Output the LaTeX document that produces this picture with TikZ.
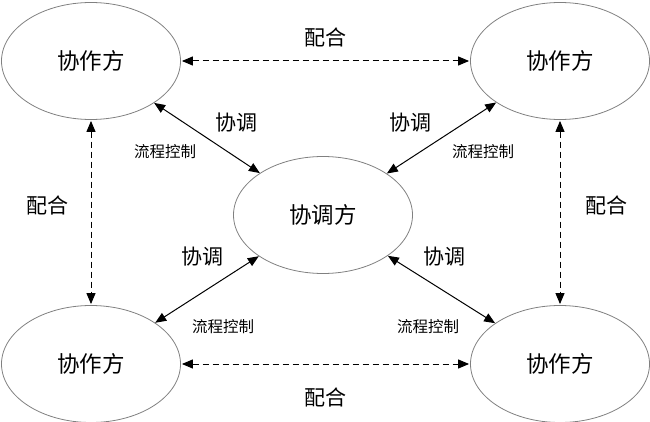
\documentclass[tikz,border=0pt]{standalone}
\usepackage{fontspec}
\newfontfamily\cjk{Noto Sans CJK SC}
\usetikzlibrary{shapes.geometric,arrows.meta}
\begin{document}
\begin{tikzpicture}[x=1pt,y=-1pt,
  party/.style={ellipse,draw=black!50,line width=0.8pt,minimum width=179pt,minimum height=117pt,inner sep=0pt,font=\cjk\fontsize{22.5}{22.5}\selectfont},
  lbl/.style={font=\cjk\fontsize{21}{21}\selectfont,inner sep=0pt},
  small/.style={font=\cjk\fontsize{15.5}{15.5}\selectfont,inner sep=0pt},
  both/.style={{Triangle[width=9pt,length=11pt]}-{Triangle[width=9pt,length=11pt]},line width=1pt},
  dsh/.style={both,dash pattern=on 6pt off 4pt}]
\useasboundingbox (0,0) rectangle (650,422);
\node[party] (tl) at (91,61) {协作方};
\node[party] (tr) at (560,61) {协作方};
\node[party] (c) at (323,215) {协调方};
\node[party] (bl) at (91,364) {协作方};
\node[party] (br) at (560,364) {协作方};
\draw[dsh,shorten <=1pt,shorten >=1pt] (tl) -- (tr);
\draw[dsh,shorten <=1pt,shorten >=1pt] (bl) -- (br);
\draw[dsh,shorten <=1pt,shorten >=1pt] (tl) -- (bl);
\draw[dsh,shorten <=1pt,shorten >=1pt] (tr) -- (br);
\draw[both] (tl) -- (c);
\draw[both] (tr) -- (c);
\draw[both] (bl) -- (c);
\draw[both] (br) -- (c);
\node[lbl] (p1) at (325,37) {配合};
\node[lbl] (p2) at (48,205) {配合};
\node[lbl] (p3) at (606,205) {配合};
\node[lbl] (p4) at (325,397) {配合};
\node[lbl] (x1) at (236,123) {协调};
\node[lbl] (x2) at (410,123) {协调};
\node[lbl] (x3) at (202,257) {协调};
\node[lbl] (x4) at (444,257) {协调};
\node[small] (f1) at (165,152) {流程控制};
\node[small] (f2) at (483,152) {流程控制};
\node[small] (f3) at (223,327) {流程控制};
\node[small] (f4) at (428,327) {流程控制};
\end{tikzpicture}
\end{document}
